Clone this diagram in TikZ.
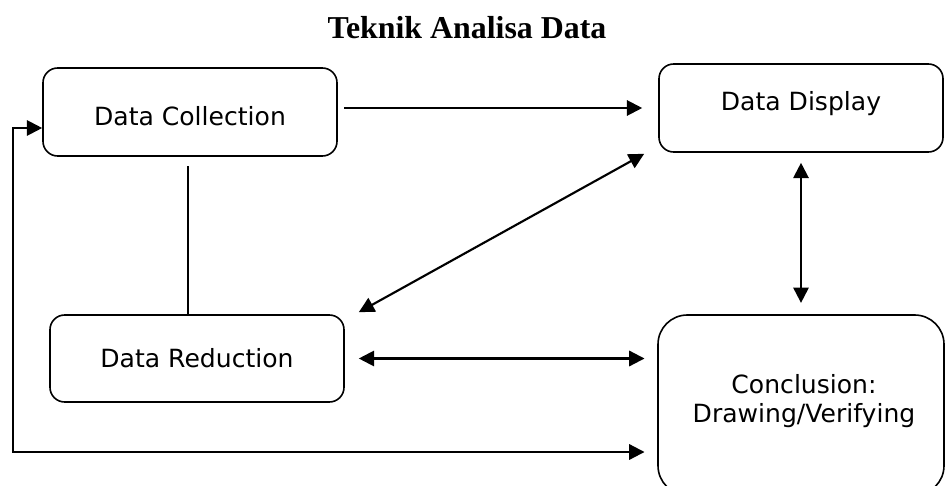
\documentclass[tikz,border=0pt]{standalone}
\usepackage{fontspec}
\setmainfont{DejaVu Sans}
\newfontfamily\titlefont{Liberation Serif}
\usetikzlibrary{arrows.meta,calc}
\begin{document}
\begin{tikzpicture}[x=0.75pt,y=-0.75pt,
  box/.style={draw,line width=1.2pt,rounded corners=11pt,inner sep=0pt,
    font=\fontsize{18.8}{21.5}\selectfont},
  boxtext/.style={font=\fontsize{18.8}{21.5}\selectfont,align=center,inner sep=0pt},
  link/.style={line width=1.6pt},
  tip/.style={link,-{Triangle[length=11.5pt,width=11.5pt]}},
  tips/.style={link,{Triangle[length=11.5pt,width=11.5pt]}-{Triangle[length=11.5pt,width=11.5pt]}}]
\useasboundingbox (0,0) rectangle (945,485);

% title
\node[font=\titlefont\bfseries\fontsize{23.9}{28}\selectfont,anchor=base,inner sep=0pt]
  (title) at (467,39) {Teknik Analisa Data};

% stages
\node[box,minimum width=220.5pt,minimum height=66pt,text height=19.5pt,text depth=0pt] (dc) at (190,112) {Data Collection};
\node[box,minimum width=213pt,minimum height=66pt,text height=14pt,text depth=11pt] (dd) at (801,108) {Data Display};
\node[box,minimum width=220.5pt,minimum height=65.25pt,text height=13.5pt,text depth=0pt] (dr) at (197,358.5) {Data Reduction};
\node[box,rounded corners=22pt,minimum width=214.5pt,minimum height=135pt] (cv) at (801,405) {};
\node[boxtext] (cvtext) at (804,401) {Conclusion:\\Drawing/Verifying};

% connectors
\draw[tip,shorten <=5pt,shorten >=12pt] (dc.east |- dd.west) -- (dd.west);
\draw[tips] ($(dr.north east)+(14,-2)$) -- ($(dd.south west)+(-14,1)$);
\draw[tips,shorten <=7.5pt,shorten >=8.5pt] (dd.south) -- (dd.south |- cv.north);
\draw[tips,shorten <=10.5pt,shorten >=9.5pt] (dr.east) -- (dr.east -| cv.west);
\draw[link] ([xshift=-1.5pt,yshift=-7pt]dc.south) -- ([xshift=-1.5pt]dc.south |- dr.north);

% feedback loop
\coordinate (loop) at (13,452);
\draw[tips,shorten <=9.5pt] (loop -| cv.west) -- (loop) |- ([yshift=-12pt]dc.west);
\end{tikzpicture}
\end{document}
